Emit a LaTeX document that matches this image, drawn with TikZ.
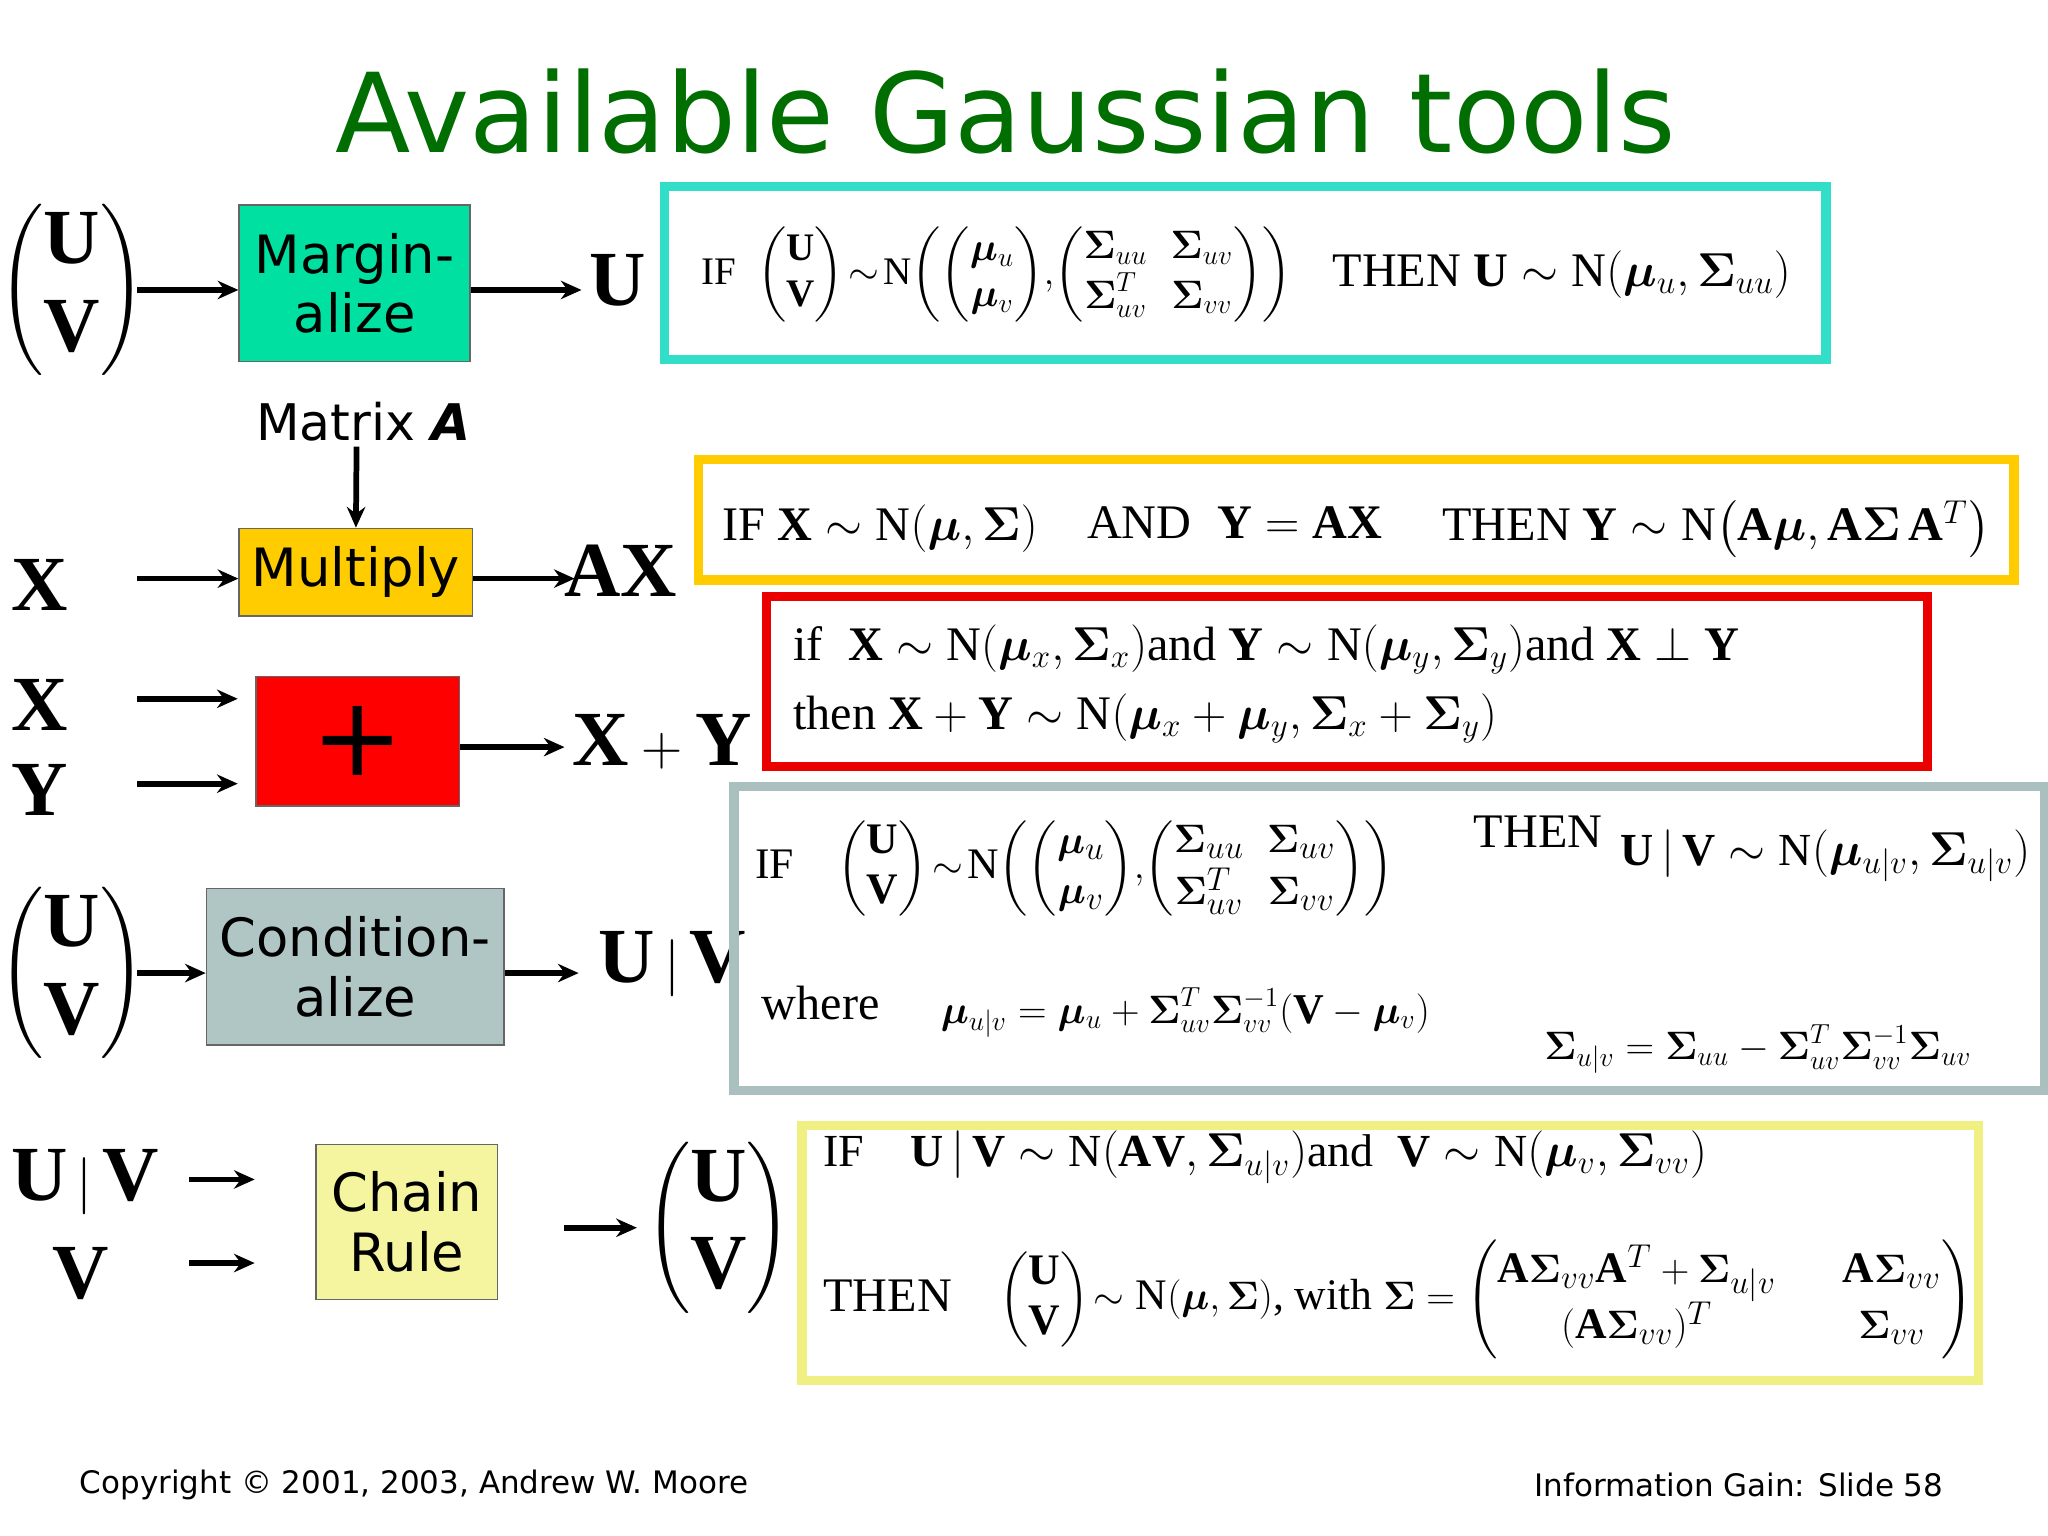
\documentclass[tikz,border=0pt]{standalone}
\usepackage{amsmath,bm}
\usepackage{fontspec}
\setmainfont{Liberation Serif}
\newfontfamily\vf{DejaVu Sans}
\usetikzlibrary{arrows.meta}
\newcommand{\bU}{\mathbf{U}}
\newcommand{\bV}{\mathbf{V}}
\newcommand{\bX}{\mathbf{X}}
\newcommand{\bY}{\mathbf{Y}}
\newcommand{\bA}{\mathbf{A}}
\newcommand{\bmu}{\bm{\mu}}
\newcommand{\bS}{\bm{\Sigma}}
\newcommand{\N}{\mathrm{N}}
\newcommand{\UV}{\begin{pmatrix}\bU\\ \bV\end{pmatrix}}
\begin{document}
\begin{tikzpicture}[x=0.02cm,y=-0.02cm,
  arr/.style={-{Stealth[length=9pt,width=8pt]}, line width=2.5pt},
  opbox/.style={draw=black!60, line width=0.6pt, font=\vf\fontsize{23}{26}\selectfont, align=center, inner sep=0pt},
  frame/.style={line width=4pt},
  big/.style={font=\fontsize{34}{38}\selectfont},
  ftxt/.style={font=\fontsize{21}{25}\selectfont, anchor=west, inner sep=0pt}]
\useasboundingbox (0,0) rectangle (1568,1176);
\fill[white] (0,0) rectangle (1568,1176);
\node[text={rgb,255:red,0;green,110;blue,0}, font=\vf\fontsize{48}{52}\selectfont] (title) at (770,85) {Available Gaussian tools};

% row 1
\node[big] (uv1) at (55,222) {$\UV$};
\node[opbox, fill={rgb,255:red,0;green,224;blue,160}, minimum width=3.54cm, minimum height=2.4cm] (marg) at (271.5,217) {Margin-\\alize};
\node[big] (u1) at (473,215) {$\bU$};
\draw[arr] (105,222) -- (marg.west|-0,222);
\draw[arr] (marg.east|-0,222) -- (u1.west|-0,222);
\draw[frame, draw={rgb,255:red,50;green,222;blue,200}] (509,143) rectangle (1398,275);
\node[ftxt, font=\fontsize{17}{20}\selectfont] (f1a) at (537,210) {IF\; $\UV\!\sim\!\N\!\left(\begin{pmatrix}\bmu_u\\ \bmu_v\end{pmatrix}\!,\!\begin{pmatrix}\bS_{uu} & \bS_{uv}\\ \bS_{uv}^T & \bS_{vv}\end{pmatrix}\right)$};
\node[ftxt] (f1b) at (1020,210) {THEN $\bU\sim\N(\bmu_u,\bS_{uu})$};

% row 2
\node[font=\vf\fontsize{22}{24}\selectfont] (mat) at (278,323) {Matrix \textbf{\textit{A}}};
\node[opbox, fill={rgb,255:red,255;green,204;blue,0}, minimum width=3.58cm, minimum height=1.34cm] (mult) at (272.5,438) {Multiply};
\draw[arr] (273,342) -- (mult.north);
\node[big] (x2) at (30,448) {$\bX$};
\node[big] (ax) at (475,437) {$\bA\bX$};
\draw[arr] (105,443) -- (mult.west|-0,443);
\draw[arr] (mult.east|-0,443) -- (440,443);
\draw[frame, draw={rgb,255:red,255;green,204;blue,0}] (535,352) rectangle (1542,444);
\node[ftxt] (f2a) at (553,405) {IF $\bX\sim\N(\bmu,\bS)$};
\node[ftxt] (f2b) at (832,400) {AND\; $\bY=\bA\bX$};
\node[ftxt] (f2c) at (1104,405) {THEN $\bY\sim\N\!\left(\bA\bmu,\bA\bS\,\bA^T\right)$};

% row 3
\node[big] (x3) at (30,540) {$\bX$};
\node[big] (y3) at (30,605) {$\bY$};
\node[opbox, fill={rgb,255:red,255;green,0;blue,0}, minimum width=3.12cm, minimum height=1.98cm, font=\vf\fontsize{48}{48}\selectfont] (plus) at (274,567.5) {+};
\draw[arr] (105,535) -- (182,535);
\draw[arr] (105,600) -- (182,600);
\node[big] (xy) at (507,568) {$\bX+\bY$};
\draw[arr] (plus.east|-0,572) -- (xy.west|-0,572);
\draw[frame, draw={rgb,255:red,235;green,0;blue,0}] (587,457) rectangle (1476,587);
\node[ftxt] (f3a) at (607,497) {if\; $\bX\sim\N(\bmu_x,\bS_x)$and $\bY\sim\N(\bmu_y,\bS_y)$and $\bX\perp\bY$};
\node[ftxt] (f3b) at (607,550) {then $\bX+\bY\sim\N(\bmu_x+\bmu_y,\bS_x+\bS_y)$};

% row 4
\node[big] (uv4) at (55,745) {$\UV$};
\node[opbox, fill={rgb,255:red,176;green,198;blue,196}, minimum width=4.56cm, minimum height=2.4cm] (cond) at (272,740) {Condition-\\alize};
\draw[arr] (105,745) -- (cond.west|-0,745);
\node[big, anchor=west] (uv4r) at (452,738) {$\bU\,|\,\bV$};
\draw[arr] (cond.east|-0,745) -- (443,745);
\draw[frame, draw={rgb,255:red,170;green,192;blue,190}] (562,602) rectangle (1565,835);
\node[ftxt, font=\fontsize{19}{22}\selectfont] (f4a) at (578,665) {IF\quad $\UV\!\sim\!\N\!\left(\begin{pmatrix}\bmu_u\\ \bmu_v\end{pmatrix}\!,\!\begin{pmatrix}\bS_{uu} & \bS_{uv}\\ \bS_{uv}^T & \bS_{vv}\end{pmatrix}\right)$};
\node[ftxt] (f4b) at (1128,637) {THEN};
\node[ftxt, font=\fontsize{20}{24}\selectfont] (f4c) at (1240,655) {$\bU\,|\,\bV\sim\N(\bmu_{u|v},\bS_{u|v})$};
\node[ftxt] (f4d) at (583,768) {where};
\node[ftxt, font=\fontsize{18.5}{22}\selectfont] (f4e) at (720,775) {$\bmu_{u|v}=\bmu_u+\bS_{uv}^T\bS_{vv}^{-1}(\bV-\bmu_v)$};
\node[ftxt, font=\fontsize{18.5}{22}\selectfont] (f4f) at (1182,803) {$\bS_{u|v}=\bS_{uu}-\bS_{uv}^T\bS_{vv}^{-1}\bS_{uv}$};

% row 5
\node[big] (uv5a) at (65,905) {$\bU\,|\,\bV$};
\node[big] (v5) at (62,975) {$\bV$};
\node[opbox, fill={rgb,255:red,245;green,245;blue,160}, minimum width=2.78cm, minimum height=2.38cm] (chain) at (311.5,935.5) {Chain\\Rule};
\draw[arr] (145,903) -- (195,903);
\draw[arr] (145,967) -- (195,967);
\node[big] (uv5) at (550,940) {$\UV$};
\draw[arr] (432,940) -- (uv5.west|-0,940);
\draw[frame, draw={rgb,255:red,240;green,240;blue,130}] (614,862) rectangle (1515,1057);
\node[ftxt, font=\fontsize{20}{24}\selectfont] (f5a) at (630,886) {IF\quad $\bU\,|\,\bV\sim\N(\bA\bV,\bS_{u|v})$and\; $\bV\sim\N(\bmu_v,\bS_{vv})$};
\node[ftxt] (f5b) at (630,992) {THEN};
\node[ftxt, font=\fontsize{19}{22}\selectfont] (f5c) at (765,995) {$\UV\!\sim\N(\bmu,\bS)$, with $\bS=\begin{pmatrix}\bA\bS_{vv}\bA^T+\bS_{u|v} & \quad\bA\bS_{vv}\\ (\bA\bS_{vv})^T & \quad\bS_{vv}\end{pmatrix}$};

% footer
\node[anchor=west, font=\vf\fontsize{13.5}{16}\selectfont] (copy) at (55,1137) {Copyright © 2001, 2003, Andrew W. Moore};
\node[anchor=east, font=\vf\fontsize{13.5}{16}\selectfont] (slide) at (1494,1137) {Information Gain: Slide 58};
\end{tikzpicture}
\end{document}
